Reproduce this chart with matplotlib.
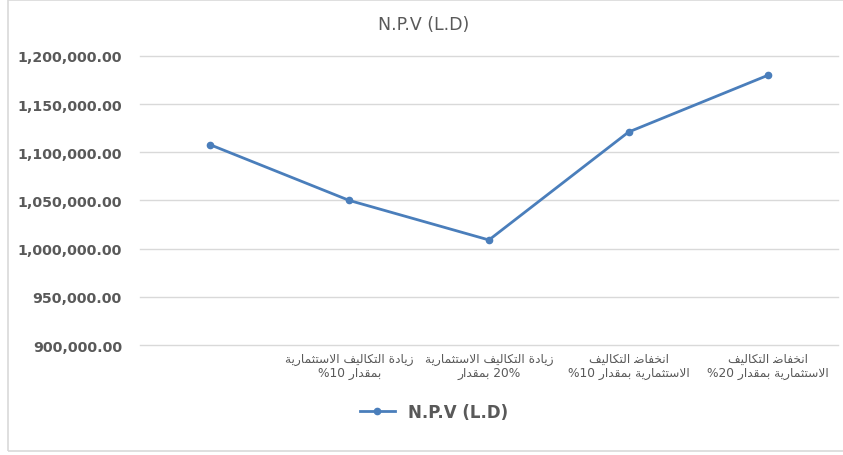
import matplotlib
matplotlib.use("Agg")
import matplotlib.pyplot as plt
from matplotlib.patches import Rectangle
from matplotlib.ticker import FuncFormatter

# -------------------------------
# Data
# -------------------------------
scenarios = [
    [""],
    ["زيادة التكاليف الاستثمارية", "بمقدار %10"],
    ["زيادة التكاليف الاستثمارية", "20% بمقدار"],
    ["انخفاض التكاليف", "الاستثمارية بمقدار %10"],
    ["انخفاض التكاليف", "الاستثمارية بمقدار %20"],
]
npv = [1108000, 1050000, 1009000, 1121000, 1180000]
series_name = "N.P.V (L.D)"
y_ticks = [900000, 950000, 1000000, 1050000, 1100000, 1150000, 1200000]

# -------------------------------
# Small Arabic shaper (matplotlib has no RTL layout)
# forms: isolated, final, initial, medial
# -------------------------------
FORMS = {
    "ا": ("\uFE8D", "\uFE8E", None, None),
    "ب": ("\uFE8F", "\uFE90", "\uFE91", "\uFE92"),
    "ة": ("\uFE93", "\uFE94", None, None),
    "ت": ("\uFE95", "\uFE96", "\uFE97", "\uFE98"),
    "ث": ("\uFE99", "\uFE9A", "\uFE9B", "\uFE9C"),
    "خ": ("\uFEA5", "\uFEA6", "\uFEA7", "\uFEA8"),
    "د": ("\uFEA9", "\uFEAA", None, None),
    "ر": ("\uFEAD", "\uFEAE", None, None),
    "ز": ("\uFEAF", "\uFEB0", None, None),
    "س": ("\uFEB1", "\uFEB2", "\uFEB3", "\uFEB4"),
    "ض": ("\uFEBF", "\uFEC0", "\uFEC1", "\uFEC2"),
    "ف": ("\uFED1", "\uFED2", "\uFED3", "\uFED4"),
    "ق": ("\uFED5", "\uFED6", "\uFED7", "\uFED8"),
    "ك": ("\uFED9", "\uFEDA", "\uFEDB", "\uFEDC"),
    "ل": ("\uFEDD", "\uFEDE", "\uFEDF", "\uFEE0"),
    "م": ("\uFEE1", "\uFEE2", "\uFEE3", "\uFEE4"),
    "ن": ("\uFEE5", "\uFEE6", "\uFEE7", "\uFEE8"),
    "ي": ("\uFEF1", "\uFEF2", "\uFEF3", "\uFEF4"),
    "لا": ("\uFEFB", "\uFEFC", None, None),
}


def shape_word(word):
    tokens = []
    i = 0
    while i < len(word):
        if word[i] == "ل" and i + 1 < len(word) and word[i + 1] == "ا":
            tokens.append("لا")
            i += 2
        else:
            tokens.append(word[i])
            i += 1
    glyphs = []
    for k, t in enumerate(tokens):
        f = FORMS[t]
        prev_join = k > 0 and FORMS[tokens[k - 1]][2] is not None
        next_join = f[2] is not None and k + 1 < len(tokens)
        if prev_join and next_join:
            glyphs.append(f[3])
        elif prev_join:
            glyphs.append(f[1])
        elif next_join:
            glyphs.append(f[2])
        else:
            glyphs.append(f[0])
    return "".join(reversed(glyphs))


def rtl(line):
    words = line.split(" ")
    out = [shape_word(w) if w and w[0] in FORMS else w for w in reversed(words)]
    return " ".join(out)


labels = ["\n".join(rtl(l) for l in lines) for lines in scenarios]

# -------------------------------
# Plot
# -------------------------------
grey = "#595959"
blue = "#4A7EBB"

fig = plt.figure(figsize=(8.43, 4.56), dpi=100)
fig.patches.append(Rectangle((0.009, 0.008), 0.995, 0.99, transform=fig.transFigure,
                             fill=False, edgecolor="#D9D9D9", linewidth=1.2))

ax = fig.add_axes([0.166, 0.2412, 0.828, 0.634])
x = list(range(len(npv)))
ax.plot(x, npv, color=blue, linewidth=2.0, marker="o", markersize=4.5,
        label=series_name)

ax.set_xlim(-0.5, len(npv) - 0.5)
ax.set_ylim(900000, 1200000)
ax.set_yticks(y_ticks)
ax.yaxis.set_major_formatter(FuncFormatter(lambda v, p: f"{v:,.2f}"))
ax.set_xticks(x)
ax.set_xticklabels(labels, fontsize=8.8, color=grey, family=["DejaVu Sans"],
                   linespacing=1.05)
ax.grid(axis="y", color="#D9D9D9", linewidth=1)
for g in ax.get_ygridlines():
    g.set_clip_on(False)
ax.set_axisbelow(True)
for s in ax.spines.values():
    s.set_visible(False)
ax.tick_params(axis="both", length=0)
ax.tick_params(axis="x", pad=5)
ax.tick_params(axis="y", pad=13)
for t in ax.get_yticklabels():
    t.set_fontsize(10.2)
    t.set_fontweight("bold")
    t.set_color(grey)

fig.text(0.503, 0.945, series_name, ha="center", va="center", fontsize=12.5,
         color=grey)

leg = fig.legend(loc="center", bbox_to_anchor=(0.515, 0.094), frameon=False,
                 handlelength=2.1, prop={"size": 12, "weight": "bold"})
for t in leg.get_texts():
    t.set_color(grey)

fig.savefig("out.png", dpi=100)
